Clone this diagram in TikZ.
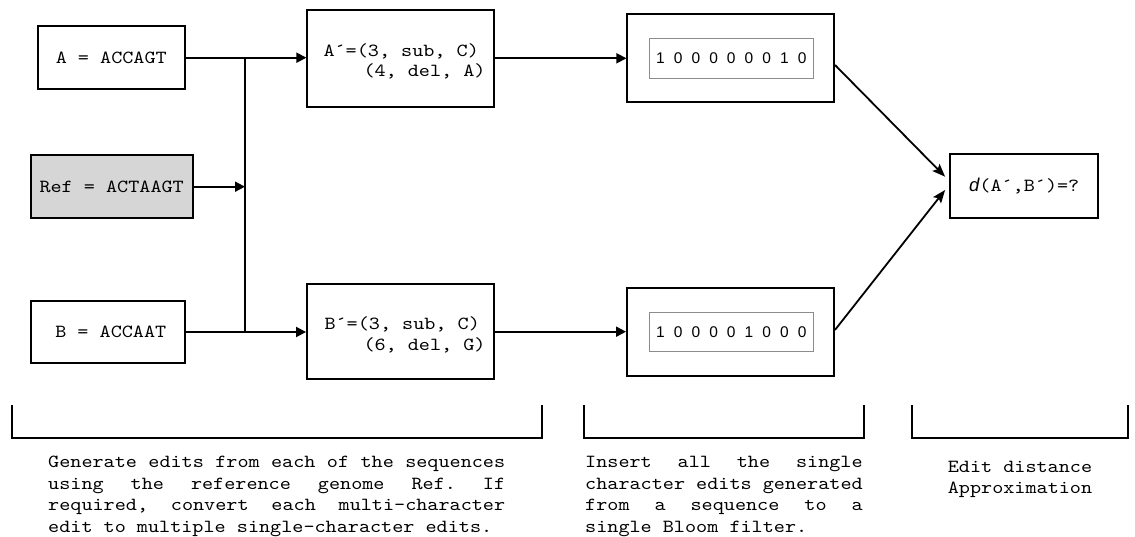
\documentclass[tikz,border=0pt]{standalone}
\usepackage{fontspec}
\setmainfont{Liberation Serif}
\newfontfamily\codefont{lmmono10-regular.otf}[FakeStretch=1.143]
\newfontfamily\bitsfont{Liberation Sans}
\usetikzlibrary{arrows.meta}
\definecolor{refgray}{RGB}{214,214,214}
% one line of monospaced text, its spaces stretched to the given width
\newcommand\spreadline[2]{\hbox to #1{\spaceskip=\fontdimen2\font plus 1fil\relax #2}}
\tikzset{
  code/.style={font=\codefont\fontsize{18.5}{20.5}\selectfont},
  box/.style={draw, line width=1.9pt, inner sep=0pt, code},
  bits/.style={draw=black!45, line width=0.9pt, inner sep=0pt,
    font=\bitsfont\fontsize{15.5}{18}\selectfont},
  link/.style={line width=1.8pt},
  arr/.style={link, -{Triangle[length=10pt,width=10pt]}},
  darr/.style={link, -{Stealth[length=13pt,width=10pt,inset=2.5pt]}},
  bracket/.style={line width=1.8pt},
  note/.style={code, inner sep=0pt},
}
\begin{document}
\begin{tikzpicture}[x=1pt,y=-1pt]
\useasboundingbox (0,0) rectangle (1135,537);

% input sequences and the reference
\node[box, minimum width=147.3pt, minimum height=63.3pt] (a) at (111.3,57.7) {A = ACCAGT};
\node[box, fill=refgray, minimum width=162pt, minimum height=63.3pt] (ref) at (111.7,186.7) {Ref = ACTAAGT};
\node[box, minimum width=154.3pt, minimum height=62.6pt] (b) at (107.8,332) {\hspace*{6pt}B = ACCAAT};

% edit lists
\node[box, minimum width=186.7pt, minimum height=96.7pt] (ap) at (400.7,58.3) {};
\node[code, anchor=base west, inner sep=0pt] (ap1) at (323.3,56.5) {A´=(3, sub, C)};
\node[code, anchor=base west, inner sep=0pt] (ap2) at (363.3,77) {(4, del, A)};
\node[box, minimum width=187pt, minimum height=95.3pt] (bp) at (400.5,331.7) {};
\node[code, anchor=base west, inner sep=0pt] (bp1) at (324.3,329.5) {B´=(3, sub, C)};
\node[code, anchor=base west, inner sep=0pt] (bp2) at (363.3,350) {(6, del, G)};

% Bloom filters
\node[box, minimum width=206.7pt, minimum height=87.4pt] (fa) at (730.7,58) {};
\node[bits, minimum width=164pt, minimum height=40pt] (fai) at (731.3,58.3)
  {\spaceskip=9.1pt\relax 1 0 0 0 0 0 0 1 0};
\node[box, minimum width=207pt, minimum height=87.7pt] (fb) at (730.5,332.2) {};
\node[bits, minimum width=164pt, minimum height=39pt] (fbi) at (731.3,332.2)
  {\spaceskip=9.1pt\relax 1 0 0 0 0 1 0 0 0};

% distance
\node[box, minimum width=148.3pt, minimum height=64pt] (d) at (1024.2,186.3)
  {{\bitsfont\itshape d}(A´,B´)=?};

% connectors
\coordinate (jt) at (245,58.3);
\coordinate (jb) at (245,332);
\draw[link] (jt) -- (jb);
\draw[arr] (a.east) -- (a.east -| ap.west);
\draw[arr] (b.east) -- (b.east -| bp.west);
\draw[arr] (ref.east) -- (ref.east -| jt);
\draw[arr] (ap.east) -- (ap.east -| fa.west);
\draw[arr] (bp.east) -- (bp.east -| fb.west);
\draw[darr] ([yshift=-7pt]fa.east) -- ([xshift=-4pt,yshift=9.6pt]d.west);
\draw[darr] ([yshift=2.2pt]fb.east) -- ([xshift=-4pt,yshift=-3.7pt]d.west);

% stage brackets
\draw[bracket] (12,405) |- (542,438) -- (542,405);
\draw[bracket] (584,405) |- (864,438) -- (864,405);
\draw[bracket] (912,405) |- (1128,438) -- (1128,405);

% stage descriptions
\node[note, anchor=base west] (n1) at (48,467.3) {\frenchspacing\vtop{\baselineskip=21.7pt\lineskiplimit=-20pt
  \spreadline{457pt}{Generate edits from each of the sequences}
  \spreadline{457pt}{using the reference genome Ref. If}
  \spreadline{457pt}{required, convert each multi-character}
  \hbox{edit to multiple single-character edits.}}};
\node[note, anchor=base west] (n2) at (585,467.3) {\frenchspacing\vtop{\baselineskip=21.7pt\lineskiplimit=-20pt
  \spreadline{277.5pt}{Insert all the single}
  \spreadline{277.5pt}{character edits generated}
  \spreadline{277.5pt}{from a sequence to a}
  \hbox{single Bloom filter.}}};
\node[note, anchor=base] (n3) at (1020,472) {\vtop{\baselineskip=21.7pt\lineskiplimit=-20pt
  \hbox{Edit distance}\hbox{Approximation}}};
\end{tikzpicture}
\end{document}
